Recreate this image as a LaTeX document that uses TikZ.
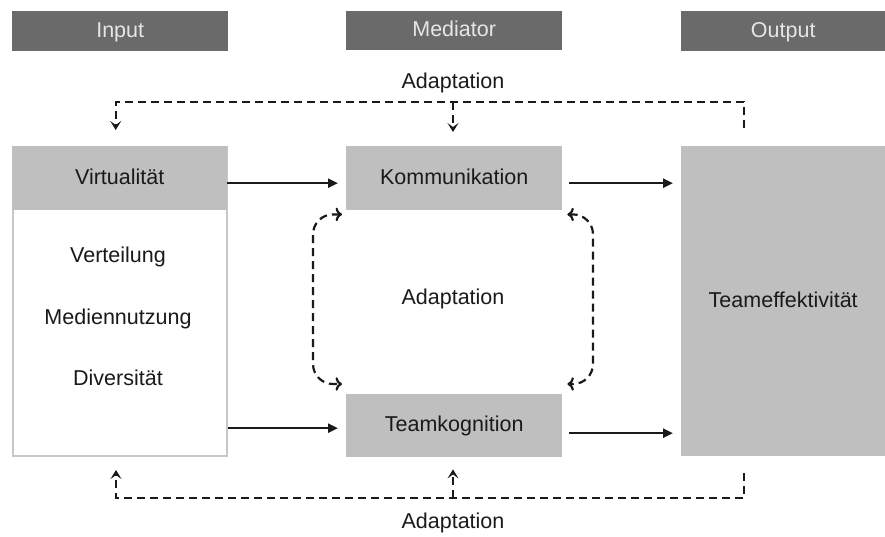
\documentclass[tikz,border=0pt]{standalone}
\usepackage{fontspec}
\setmainfont{Liberation Sans}
\usetikzlibrary{arrows.meta,positioning}
\definecolor{headfill}{HTML}{6A6A6A}
\definecolor{headtext}{HTML}{E6E6E6}
\definecolor{boxfill}{HTML}{BFBFBF}
\definecolor{boxline}{HTML}{C8C8C8}
\definecolor{ink}{HTML}{1A1A1A}

\begin{document}
\begin{tikzpicture}[x=1pt,y=-1pt,font=\fontsize{21.5}{25}\selectfont]
 \tikzset{head node/.style={rectangle, fill=headfill, text=headtext,
 		anchor=north west, inner sep=0pt, text height=15pt, text depth=3pt, text centered}, }
 \tikzset{box node/.style={rectangle, fill=boxfill, text=ink,
 		anchor=north west, inner sep=0pt, text height=15pt, text depth=3pt, text centered}, }
 \tikzset{list node/.style={rectangle, draw=boxline, line width=2pt, fill=white,
 		anchor=north west, inner sep=0pt}, }
 \tikzset{label node/.style={text=ink, inner sep=0pt, text height=15pt, text depth=4pt}, }
 \tikzset{linea/.style={-{Triangle[length=10pt,width=9pt]}, line width=2.2pt, draw=ink},}
 \tikzset{adapt/.style={line width=2.2pt, draw=ink, dash pattern=on 8pt off 5pt,
 		-{Stealth[length=9pt,width=11pt,inset=4pt]}},}
 \useasboundingbox (0,0) rectangle (885,536);
 % column heads
 \node[head node, minimum width=216pt, minimum height=40pt] (hin) at (12,11) {Input};
 \node[head node, minimum width=216pt, minimum height=39pt] (hmed) at (346,11) {Mediator};
 \node[head node, minimum width=204pt, minimum height=40pt] (hout) at (681,11) {Output};
 % boxes
 \node[list node, minimum width=214pt, minimum height=309pt] (list) at (12,146) {};
 \node[box node, minimum width=215pt, minimum height=64pt] (virt) at (12,146) {Virtualität};
 \node[label node] (vert) at (118,257) {Verteilung};
 \node[label node] (med) at (118,319) {Mediennutzung};
 \node[label node] (div) at (118,380) {Diversität};
 \node[box node, minimum width=216pt, minimum height=64pt] (komm) at (346,146) {Kommunikation};
 \node[box node, minimum width=216pt, minimum height=63pt] (kogn) at (346,394) {Teamkognition};
 \node[box node, minimum width=204pt, minimum height=310pt] (eff) at (681,146) {Teameffektivität};
 % adaptation labels
 \node[label node] (adtop) at (453,83) {Adaptation};
 \node[label node] (admid) at (453,299) {Adaptation};
 \node[label node] (adbot) at (453,523) {Adaptation};
 % forward arrows
 \draw[linea, shorten >=8pt] ([yshift=-5pt]virt.east) -- ([yshift=-5pt]komm.west);
 \draw[linea, shorten <=7pt, shorten >=8pt] ([yshift=-5pt]komm.east) -- ([yshift=-5pt]komm.east -| eff.west);
 \draw[linea, shorten >=8pt] ([yshift=-2.5pt]list.east |- kogn) -- ([yshift=-2.5pt]kogn.west);
 \draw[linea, shorten <=7pt, shorten >=8pt] ([yshift=-7.5pt]kogn.east) -- ([yshift=-7.5pt]kogn.east -| eff.west);
 % feedback loops
 \coordinate (tr) at (744,128);
 \coordinate (br) at (744,473);
 \draw[adapt] (tr) -- (744,102) -| ([xshift=-4pt,yshift=16pt]virt.north);
 \draw[adapt] (453,102) -- ([yshift=14pt]komm.north -| adtop);
 \draw[adapt] (br) -- (744,498) -| ([xshift=-4pt,yshift=-13pt]list.south);
 \draw[adapt] (453,498) -- ([yshift=-12pt]kogn.south -| adbot);
 \draw[adapt, <->, rounded corners=20pt] ([xshift=-4pt,yshift=-4pt]komm.south west)
 	-| (313,300) |- ([xshift=-4pt,yshift=10pt]kogn.north west);
 \draw[adapt, <->, rounded corners=20pt] ([xshift=5pt,yshift=-4pt]komm.south east)
 	-| (593,300) |- ([xshift=5pt,yshift=10pt]kogn.north east);
\end{tikzpicture}
\end{document}
